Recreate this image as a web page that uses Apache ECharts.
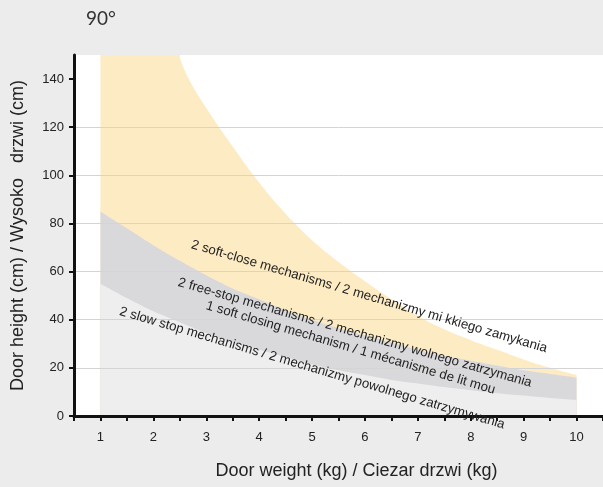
<!DOCTYPE html>
<html>
<head>
<meta charset="utf-8">
<script src="https://cdn.jsdelivr.net/npm/echarts@6/dist/echarts.min.js"></script>
<style>
  html, body { margin: 0; padding: 0; background: #ececec; }
  #main { width: 603px; height: 487px; }
</style>
</head>
<body>
<div id="main"></div>
<script>
  // door weight (kg) on x, max door height (cm) on y
  var weights = [1, 1.5, 2, 2.5, 3, 3.5, 4, 4.5, 5, 5.5, 6, 6.5, 7, 7.5, 8, 8.5, 9, 9.5, 10];
  var slowStop = [55, 49, 43.5, 39, 34.5, 30.5, 27.5, 24.5, 21.5, 19, 17, 15, 13.5, 12, 10.7, 9.5, 8.5, 7.5, 6.7];
  var freeStop = [85, 78, 71, 64.5, 58.5, 53, 48.5, 44, 40, 36.5, 33.5, 30.5, 27.5, 25, 23, 21, 19, 17.5, 16];
  // soft-close band runs off the top of the chart until about 2.5 kg
  var softCapX = [1, 2.5];
  var softCap = [150, 150];
  var softCloseX = [2.48, 2.67, 3, 3.5, 4, 4.5, 5, 5.5, 6, 6.5, 7, 7.5, 8, 8.5, 9, 9.5, 10];
  var softClose = [150, 140, 128, 112, 97, 84, 73, 64, 56, 48.5, 41.5, 36, 31.5, 27.5, 23.5, 20, 17];

  var xTicks = [1, 2, 3, 4, 5, 6, 7, 8, 9, 10];
  var yTicks = [0, 20, 40, 60, 80, 100, 120, 140];

  var bandLabels = [
    '2 soft-close mechanisms / 2 mechanizmy mi kkiego zamykania',
    '2 free-stop mechanisms / 2 mechanizmy wolnego zatrzymania',
    '1 soft closing mechanism / 1 mécanisme de lit mou',
    '2 slow stop mechanisms / 2 mechanizmy powolnego zatrzymywania'
  ];
  // where each label sits (data coords of its centre) and its tilt in degrees
  var labelPlace = [[6.08, 49.6, 16.4], [5.81, 34.6, 16], [5.73, 28.3, 16.4], [5.0, 19.9, 16.5]];

  function pairs(xs, ys) {
    return xs.map(function (x, i) { return [x, ys[i]]; });
  }

  var font = '"Liberation Sans", Arial, sans-serif';
  var chart = echarts.init(document.getElementById('main'));

  function band(name, data, color) {
    return {
      name: name, type: 'line', data: data,
      smooth: 0.4, symbol: 'none',
      lineStyle: { width: 0 }, areaStyle: { color: color, opacity: 1 }
    };
  }

  var option = {
    backgroundColor: '#ececec',
    animation: false,
    grid: {
      left: 74, right: -10, top: 55, bottom: 71,
      show: true, backgroundColor: '#ffffff', borderWidth: 0
    },
    xAxis: {
      type: 'value',
      min: 0.5, max: 10.5, interval: 0.5,
      z: 5,
      name: 'Door weight (kg) / Ciezar drzwi (kg)',
      nameLocation: 'middle',
      nameGap: 46,
      nameTextStyle: { fontFamily: font, fontSize: 18, color: '#222', padding: [0, 0, 0, 36] },
      axisLine: { lineStyle: { color: '#111', width: 3 } },
      axisTick: { length: 5, lineStyle: { color: '#111', width: 2 } },
      axisLabel: { customValues: xTicks, margin: 15, fontFamily: font, fontSize: 13, color: '#222' },
      splitLine: { show: false }
    },
    yAxis: {
      type: 'value',
      min: 0, max: 150, interval: 20,
      z: 5,
      name: 'Door height (cm) / Wysoko   drzwi (cm)',
      nameLocation: 'middle',
      nameGap: 47,
      nameTextStyle: { fontFamily: font, fontSize: 18, color: '#222' },
      axisLine: { show: true, lineStyle: { color: '#111', width: 3 } },
      axisTick: { show: true, customValues: yTicks, length: 5, lineStyle: { color: '#111', width: 2 } },
      axisLabel: { customValues: yTicks, margin: 10, fontFamily: font, fontSize: 13, color: '#222' },
      splitLine: { show: true, showMaxLine: false, showMinLine: false, lineStyle: { color: '#d4d4d4', width: 1 } }
    },
    series: [
      band('soft-close', pairs(softCloseX, softClose), '#fdecc3'),
      band('soft-close top', pairs(softCapX, softCap), '#fdecc3'),
      band('free-stop', pairs(weights, freeStop), '#d9d9db'),
      band('slow-stop', pairs(weights, slowStop), '#eeeeee')
    ]
  };

  chart.setOption(option);

  var graphics = [{
    type: 'text', left: 86, top: 9, z: 10,
    style: { text: '90°', fontFamily: 'Lato, sans-serif', fontSize: 19, fill: '#333' }
  }];
  bandLabels.forEach(function (txt, i) {
    var p = chart.convertToPixel({ gridIndex: 0 }, [labelPlace[i][0], labelPlace[i][1]]);
    graphics.push({
      type: 'text', x: p[0], y: p[1], z: 10,
      rotation: -labelPlace[i][2] * Math.PI / 180,
      style: { text: txt, fontFamily: font, fontSize: 13.3, fill: '#222', align: 'center', verticalAlign: 'middle' }
    });
  });
  chart.setOption({ graphic: graphics });
</script>
</body>
</html>
